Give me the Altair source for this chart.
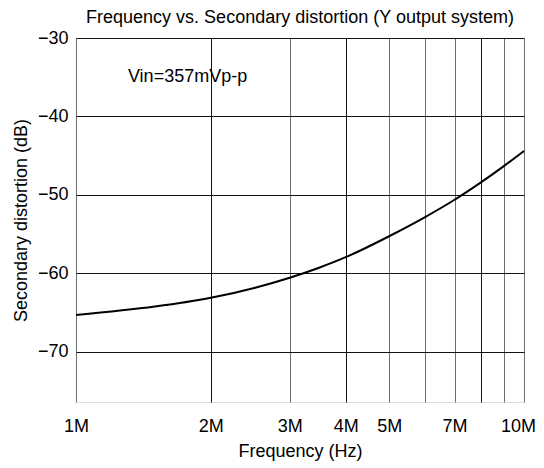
import altair as alt
import pandas as pd

# Curve data (frequency in MHz, distortion in dB)
freq_mhz = [1, 1.5, 2, 2.5, 3, 3.5, 4, 5, 6, 7, 8, 9, 10]
distortion_db = [-65.30, -64.24, -63.12, -61.86, -60.56, -59.25, -57.94, -55.27, -52.86, -50.62, -48.44, -46.37, -44.41]

x_ticks = [1e6, 2e6, 3e6, 4e6, 5e6, 6e6, 7e6, 8e6, 9e6, 1e7]
x_labeled = [1e6, 2e6, 3e6, 4e6, 5e6, 7e6, 1e7]
x_dark = [2e6, 4e6, 8e6]
y_ticks = [-30, -40, -50, -60, -70]

annotation = "Vin=357mVp-p"
ann_freq = 1.306e6
ann_db = -35.0

FONT = "Liberation Sans"
FS = 18

df = pd.DataFrame({"f": [v * 1e6 for v in freq_mhz], "db": distortion_db})

x_scale = alt.Scale(type="log", domain=[1e6, 1e7], nice=False)
y_scale = alt.Scale(domain=[-76.4, -30], nice=False, zero=False)

label_test = " || ".join(f"datum.value == {int(v)}" for v in x_labeled)
dark_test = " || ".join(f"datum.value == {int(v)}" for v in x_dark)

line = alt.Chart(df).mark_line(color="black", strokeWidth=2, interpolate="monotone").encode(
    x=alt.X("f:Q", scale=x_scale, title="Frequency (Hz)",
            axis=alt.Axis(values=x_ticks, grid=True,
                          gridColor={"condition": {"test": dark_test, "value": "#111111"}, "value": "#6e6e6e"},
                          gridOpacity=1, gridWidth=1,
                          ticks=False, domain=False, labelFont=FONT, labelFontSize=FS,
                          labelColor="black", labelPadding=15, titleFont=FONT, titleFontSize=FS,
                          titleFontWeight="normal", titleColor="black", titlePadding=7,
                          labelOffset={"condition": {"test": "datum.value == 10000000", "value": -6}, "value": 0},
                          labelExpr=f"({label_test}) ? (datum.value / 1000000) + 'M' : ''",
                          labelFlush=False)),
    y=alt.Y("db:Q", scale=y_scale, title="Secondary distortion (dB)",
            axis=alt.Axis(values=y_ticks, grid=True, gridColor="#111111", gridOpacity=1, gridWidth=1,
                          ticks=False, domain=False, labelFont=FONT, labelFontSize=FS,
                          labelColor="black", labelPadding=8, titleFont=FONT, titleFontSize=FS,
                          titleFontWeight="normal", titleColor="black", titlePadding=7,
                          labelExpr="replace(datum.label, '-', '\u2013')")),
)

text = alt.Chart(pd.DataFrame({"f": [ann_freq], "db": [ann_db], "t": [annotation]})).mark_text(
    align="left", baseline="middle", font=FONT, fontSize=FS, color="black"
).encode(x=alt.X("f:Q", scale=x_scale), y=alt.Y("db:Q", scale=y_scale), text="t:N")

chart = alt.layer(line, text).properties(
    width=448, height=364,
    title=alt.Title("Frequency vs. Secondary distortion (Y output system)", font=FONT, fontSize=18,
                    fontWeight="normal", color="black", offset=7, dy=5),
    autosize=alt.AutoSizeParams(type="none"),
    padding={"left": 68, "top": 30, "right": 12, "bottom": 60},
).configure_view(stroke="black", strokeWidth=2).configure(background="white")

chart.save("out.html", embed_options={"renderer": "svg", "actions": False})
